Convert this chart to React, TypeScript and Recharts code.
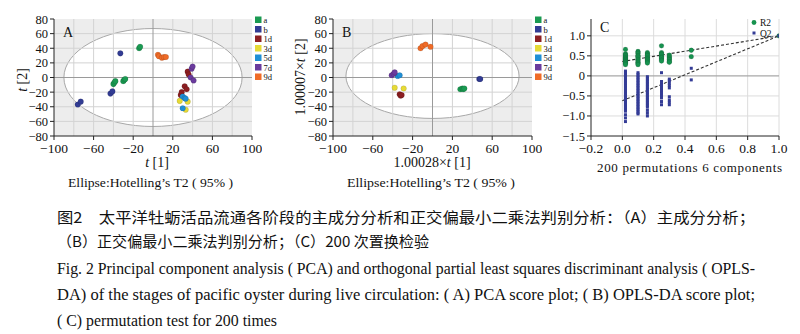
import React from "react";
import {
  ReferenceArea,
  ReferenceLine,
  Scatter,
  ScatterChart,
  XAxis,
  YAxis,
} from "recharts";

const SERIF = "'Liberation Serif', 'Times New Roman', serif";
const CJK = "'Noto Sans CJK SC', sans-serif";

const GROUPS = ["a", "b", "1d", "3d", "5d", "7d", "9d"];
const GROUP_COLORS = ["#1a9a52", "#323c94", "#8c1f22", "#e6da36", "#1f8fd6", "#6a3b9d", "#ef6b27"];

// Panel A — PCA scores [t1, t2] per group
const PCA_A = [[-14, 40], [-13, 42], [-40, -9], [-39, -7], [-38, -5], [-30, -5], [-29, -3], [-28, -2]];
const PCA_B = [[-33, 33], [-43, -22], [-41, -19], [-76, -37], [-73, -33]];
const PCA_1D = [[35, 8], [36, 4], [32, -12], [34, -16], [28, -24], [29, -20]];
const PCA_3D = [[27, -32], [35, -33], [33, -44]];
const PCA_5D = [[30, -26], [32, -28], [33, -29], [30, -42]];
const PCA_7D = [[39, 12], [40, 15], [38, 0], [41, -4]];
const PCA_9D = [[5, 31], [6, 29], [9, 27], [11, 28], [13, 28]];

// Panel B — OPLS-DA scores
const OPLS_A = [[28, -16], [30, -15], [31, -16], [32, -15]];
const OPLS_B = [[47, -2], [48, -2]];
const OPLS_1D = [[-33, -23], [-32, -25], [-31, -24]];
const OPLS_3D = [[-38, -14], [-29, -15]];
const OPLS_5D = [[-35, 2], [-33, 3]];
const OPLS_7D = [[-41, 3], [-39, 5], [-38, 7]];
const OPLS_9D = [[-12, 40], [-10, 43], [-7, 45], [-2, 42]];

const SCORE_TICKS_X = [-100, -60, -20, 20, 60, 100];
const SCORE_TICKS_Y = [-80, -60, -40, -20, 0, 20, 40, 60, 80];
const SCORE_GRID_X = [-80, -60, -40, -20, 20, 40, 60, 80];
const SCORE_GRID_Y = [-60, -40, -20, 20, 40, 60];

// Panel C — permutation test, one list per permutation column
const PERM_X = [0.02, 0.1, 0.16, 0.25, 0.3, 0.44, 1.0];
const R2_COLS = [
  [0.66, 0.55, 0.52, 0.5, 0.47, 0.45, 0.43, 0.41, 0.39, 0.37, 0.35, 0.33, 0.31, 0.28],
  [0.61, 0.58, 0.55, 0.51, 0.49, 0.46, 0.42, 0.4, 0.37, 0.34, 0.31, 0.28],
  [0.58, 0.55, 0.52, 0.5, 0.46, 0.43, 0.41, 0.38, 0.35, 0.32],
  [0.75, 0.58, 0.55, 0.53, 0.49, 0.46, 0.44, 0.4, 0.37],
  [0.52, 0.48, 0.45, 0.42, 0.4, 0.36, 0.34],
  [0.64, 0.48],
  [1.0],
];
const Q2_COLS = [
  [0.12, 0.08, 0.04, 0.0, -0.04, -0.08, -0.12, -0.16, -0.2, -0.24, -0.28, -0.32, -0.36, -0.4, -0.44, -0.48, -0.52, -0.56, -0.6, -0.64, -0.68, -0.72, -0.76, -0.8, -0.84, -0.88, -0.97, -1.05, -1.14],
  [0.08, 0.04, 0.0, -0.04, -0.08, -0.12, -0.16, -0.2, -0.24, -0.28, -0.32, -0.36, -0.4, -0.44, -0.48, -0.52, -0.56, -0.6, -0.64, -0.68, -0.72, -0.76, -0.8, -0.84, -0.88, -0.92, -0.95],
  [-0.02, -0.06, -0.1, -0.14, -0.18, -0.22, -0.26, -0.3, -0.34, -0.38, -0.42, -0.46, -0.5, -0.54, -0.58, -0.62, -0.66, -0.7, -0.74, -0.78, -0.86, -0.93, -1.0],
  [0.08, -0.14, -0.18, -0.22, -0.26, -0.3, -0.34, -0.38, -0.42, -0.46, -0.5, -0.55, -0.64, -0.72],
  [-0.08, -0.12, -0.18, -0.24, -0.3, -0.52, -0.6, -0.66, -0.72],
  [0.19, -0.1],
  [1.0],
];
const R2_INTERCEPT = 0.36;
const Q2_INTERCEPT = -0.62;
const PERM_TICKS_X = [-0.2, 0, 0.2, 0.4, 0.6, 0.8, 1.0];
const PERM_TICKS_Y = [-1.5, -1.0, -0.5, 0, 0.5, 1.0];
const PERM_GRID_Y = [-1.0, -0.5, 0.5, 1.0];
const PERM_GRID_X = [0, 0.2, 0.4, 0.6, 0.8, 1.0];

const CAPTION_ZH = [
  "图2　太平洋牡蛎活品流通各阶段的主成分分析和正交偏最小二乘法判别分析：（A）主成分分析；",
  "（B）正交偏最小二乘法判别分析；（C）200 次置换检验",
];
const CAPTION_EN = [
  "Fig. 2   Principal component analysis ( PCA) and orthogonal partial least squares discriminant analysis ( OPLS-",
  "DA) of the stages of pacific oyster during live circulation: ( A) PCA score plot; ( B) OPLS-DA score plot;",
  "( C) permutation test for 200 times",
];

const minus = (s: string) => s.replace("-", "\u2212");

const toPoints = (rows: number[][]) => rows.map(([x, y]) => ({ x, y }));

const serifStyle = { fontFamily: SERIF };

function makeXTick(fmt: (v: number) => string) {
  return (p: any) => (
    <text x={p.x} y={p.y} dy="0.78em" textAnchor="middle" fontSize={13.5} fill="#111" style={serifStyle}>
      {fmt(p.payload.value)}
    </text>
  );
}

function makeYTick(fmt: (v: number) => string) {
  return (p: any) => (
    <text x={p.x} y={p.y} dy="0.36em" textAnchor="end" fontSize={12.5} fill="#111" style={serifStyle}>
      {fmt(p.payload.value)}
    </text>
  );
}

function dot(color: string, r: number) {
  return (p: any) => <circle cx={p.cx} cy={p.cy} r={r} fill={color} stroke="rgba(0,0,0,0.18)" strokeWidth={0.6} />;
}

function square(color: string, s: number) {
  return (p: any) => <rect x={p.cx - s / 2} y={p.cy - s / 2} width={s} height={s} fill={color} />;
}

function ellipseShape(p: any) {
  return (
    <ellipse
      cx={p.x + p.width / 2}
      cy={p.y + p.height / 2}
      rx={p.width / 2}
      ry={p.height / 2}
      fill="#ffffff"
      stroke="#a8a8a8"
      strokeWidth={1}
    />
  );
}

const scoreFmt = (v: number) => minus(String(v));

type ScoreProps = {
  groups: number[][][];
  ellipse: { x1: number; x2: number; y1: number; y2: number };
  left: number;
  width: number;
  marginLeft: number;
  marginRight: number;
};

function ScorePlot({ groups, ellipse, left, width, marginLeft, marginRight }: ScoreProps) {
  return (
    <div style={{ position: "absolute", left, top: 0, fontFamily: SERIF }}>
      <ScatterChart
        width={width}
        height={200}
        margin={{ top: 19, right: marginRight, bottom: 34, left: marginLeft }}
      >
        <XAxis
          type="number"
          dataKey="x"
          domain={[-100, 100]}
          ticks={SCORE_TICKS_X}
          tick={makeXTick(scoreFmt)}
          tickSize={4}
          height={30}
          interval={0}
          axisLine={{ stroke: "#222" }}
          tickLine={{ stroke: "#222" }}
          allowDataOverflow
        />
        <YAxis
          type="number"
          dataKey="y"
          domain={[-80, 80]}
          ticks={SCORE_TICKS_Y}
          tick={makeYTick(scoreFmt)}
          tickSize={4}
          width={30}
          interval={0}
          axisLine={{ stroke: "#222" }}
          tickLine={{ stroke: "#222" }}
          allowDataOverflow
        />
        <ReferenceArea x1={-100} x2={100} y1={-80} y2={80} fill="#ededed" fillOpacity={1} stroke="none" />
        <ReferenceArea {...ellipse} shape={ellipseShape} />
        {SCORE_GRID_X.map((v) => (
          <ReferenceLine key={"gx" + v} x={v} stroke="#d3d3d3" strokeWidth={1} />
        ))}
        {SCORE_GRID_Y.map((v) => (
          <ReferenceLine key={"gy" + v} y={v} stroke="#d3d3d3" strokeWidth={1} />
        ))}
        <ReferenceLine x={0} stroke="#9a9a9a" strokeWidth={1} />
        <ReferenceLine y={0} stroke="#9a9a9a" strokeWidth={1} />
        {groups.map((rows, i) => (
          <Scatter
            key={GROUPS[i]}
            name={GROUPS[i]}
            data={toPoints(rows)}
            fill={GROUP_COLORS[i]}
            shape={dot(GROUP_COLORS[i], 2.8)}
            isAnimationActive={false}
          />
        ))}
      </ScatterChart>
    </div>
  );
}

function PermutationPlot() {
  const r2 = PERM_X.flatMap((x, i) => R2_COLS[i].map((y) => ({ x, y })));
  const q2 = PERM_X.flatMap((x, i) => Q2_COLS[i].map((y) => ({ x, y })));
  const fmtX = (v: number) => minus(v.toFixed(1));
  const fmtY = (v: number) => (v === 0 ? "0" : minus(v.toFixed(1)));
  return (
    <div style={{ position: "absolute", left: 520, top: 0, fontFamily: SERIF }}>
      <ScatterChart width={280} height={200} margin={{ top: 19, right: 21, bottom: 34, left: 41 }}>
        <XAxis
          type="number"
          dataKey="x"
          domain={[-0.2, 1.0]}
          ticks={PERM_TICKS_X}
          tick={makeXTick(fmtX)}
          tickSize={4}
          height={30}
          interval={0}
          axisLine={{ stroke: "#222" }}
          tickLine={{ stroke: "#222" }}
          allowDataOverflow
        />
        <YAxis
          type="number"
          dataKey="y"
          domain={[-1.5, 1.42]}
          ticks={PERM_TICKS_Y}
          tick={makeYTick(fmtY)}
          tickSize={4}
          width={30}
          interval={0}
          axisLine={{ stroke: "#222" }}
          tickLine={{ stroke: "#222" }}
          allowDataOverflow
        />
        {PERM_GRID_X.map((v) => (
          <ReferenceLine key={"px" + v} x={v} stroke="#dcdcdc" strokeWidth={1} />
        ))}
        {PERM_GRID_Y.map((v) => (
          <ReferenceLine key={"py" + v} y={v} stroke="#dcdcdc" strokeWidth={1} />
        ))}
        <ReferenceLine y={0} stroke="#a8a8a8" strokeWidth={1.2} />
        <Scatter data={r2} fill="#17924f" shape={dot("#17924f", 2.4)} isAnimationActive={false} />
        <Scatter data={q2} fill="#343c96" shape={square("#343c96", 3)} isAnimationActive={false} />
        <ReferenceLine
          segment={[{ x: 0, y: R2_INTERCEPT }, { x: 1, y: 1 }]}
          stroke="#333"
          strokeWidth={1.1}
          strokeDasharray="3 2"
        />
        <ReferenceLine
          segment={[{ x: 0, y: Q2_INTERCEPT }, { x: 1, y: 1 }]}
          stroke="#333"
          strokeWidth={1.1}
          strokeDasharray="3 2"
        />
      </ScatterChart>
    </div>
  );
}

function GroupLegend({ x }: { x: number }) {
  return (
    <g>
      {GROUPS.map((g, i) => (
        <g key={g}>
          <rect x={x} y={16.5 + i * 9.5} width={6.5} height={6.5} fill={GROUP_COLORS[i]} />
          <text x={x + 8.5} y={23 + i * 9.5} fontSize={8.5} fill="#111" style={serifStyle}>
            {g}
          </text>
        </g>
      ))}
    </g>
  );
}

function Overlay() {
  const t = { fill: "#111", style: serifStyle };
  return (
    <svg
      width={800}
      height={334}
      style={{ position: "absolute", left: 0, top: 0, pointerEvents: "none", whiteSpace: "pre" }}
    >
      <GroupLegend x={255} />
      <GroupLegend x={535} />

      <text x={63} y={37} fontSize={14} {...t}>A</text>
      <text x={342} y={37} fontSize={14} {...t}>B</text>
      <text x={600} y={32} fontSize={14} {...t}>C</text>

      {/* panel A labels */}
      <text x={157} y={167} fontSize={14} textAnchor="middle" {...t}>
        <tspan fontStyle="italic">t</tspan> [1]
      </text>
      <text transform="translate(27,80) rotate(-90)" fontSize={14} textAnchor="middle" {...t}>
        <tspan fontStyle="italic">t</tspan> [2]
      </text>
      <text x={68} y={187} fontSize={13} textLength={165} lengthAdjust="spacingAndGlyphs" {...t}>
        Ellipse:Hotelling’s  T2 ( 95% )
      </text>

      {/* panel B labels */}
      <text x={432} y={167} fontSize={14} textAnchor="middle" {...t}>
        1.00028×<tspan fontStyle="italic">t</tspan> [1]
      </text>
      <text transform="translate(305,77) rotate(-90)" fontSize={14} textAnchor="middle" {...t}>
        1.00007×<tspan fontStyle="italic">t</tspan> [2]
      </text>
      <text x={347} y={187} fontSize={13} textLength={168} lengthAdjust="spacingAndGlyphs" {...t}>
        Ellipse:Hotelling’s  T2 ( 95% )
      </text>

      {/* panel C legend and label */}
      <circle cx={754} cy={22.5} r={2.4} fill="#17924f" />
      <text x={760} y={26} fontSize={9.5} {...t}>R2</text>
      <rect x={752.5} y={31.5} width={3} height={3} fill="#343c96" />
      <text x={760} y={36.5} fontSize={9.5} {...t}>Q2</text>
      <text x={597} y={172} fontSize={13} textLength={185} lengthAdjust="spacing" {...t}>
        200  permutations  6  components
      </text>

      {/* caption */}
      <text x={57} y={223} fontSize={15} fontFamily={CJK} fill="#111" textLength={698} lengthAdjust="spacingAndGlyphs">
        {CAPTION_ZH[0]}
      </text>
      <text x={57} y={247} fontSize={15} fontFamily={CJK} fill="#111" textLength={372} lengthAdjust="spacingAndGlyphs">
        {CAPTION_ZH[1]}
      </text>
      <text x={57} y={274} fontSize={16.5} {...t} textLength={698} lengthAdjust="spacingAndGlyphs">
        {CAPTION_EN[0]}
      </text>
      <text x={57} y={300} fontSize={16.5} {...t} textLength={698} lengthAdjust="spacingAndGlyphs">
        {CAPTION_EN[1]}
      </text>
      <text x={57} y={326} fontSize={16.5} {...t} textLength={220} lengthAdjust="spacingAndGlyphs">
        {CAPTION_EN[2]}
      </text>
    </svg>
  );
}

export default function App() {
  return (
    <div
      style={{
        position: "absolute",
        left: 0,
        top: 0,
        width: 800,
        height: 334,
        background: "#fff",
        overflow: "hidden",
      }}
    >
      <ScorePlot
        groups={[PCA_A, PCA_B, PCA_1D, PCA_3D, PCA_5D, PCA_7D, PCA_9D]}
        ellipse={{ x1: -90, x2: 90, y1: -67, y2: 67 }}
        left={0}
        width={262}
        marginLeft={24}
        marginRight={10}
      />
      <ScorePlot
        groups={[OPLS_A, OPLS_B, OPLS_1D, OPLS_3D, OPLS_5D, OPLS_7D, OPLS_9D]}
        ellipse={{ x1: -87, x2: 87, y1: -56, y2: 60 }}
        left={270}
        width={272}
        marginLeft={33}
        marginRight={10}
      />
      <PermutationPlot />
      <Overlay />
    </div>
  );
}
